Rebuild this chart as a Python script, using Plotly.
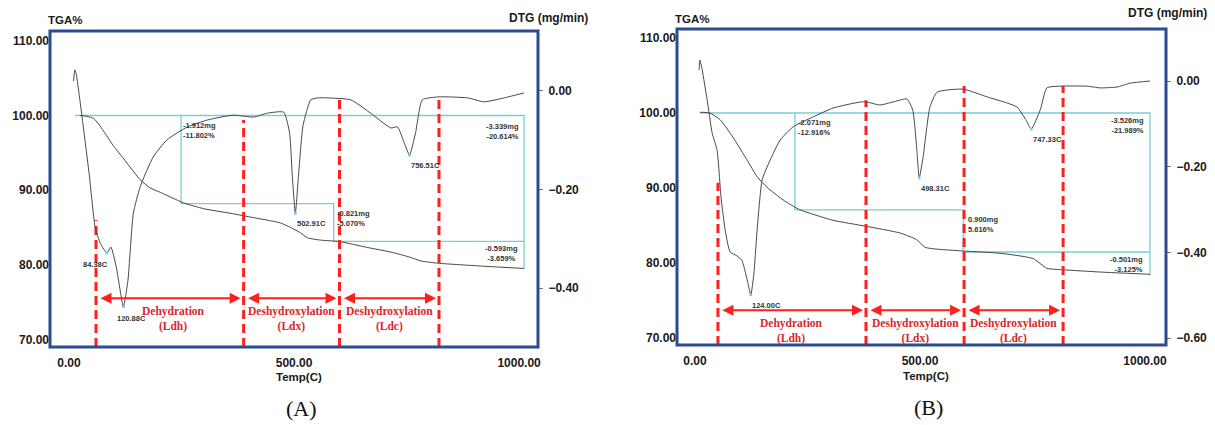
import plotly.graph_objects as go
import numpy as np

# ---------------- panel (A) ----------------
tga_T_A = [25, 40, 55, 69, 98, 124, 158, 180, 203, 254, 300, 358, 420, 470, 492, 514,
           530, 559, 601, 664, 715, 758, 782, 820, 922, 1011]
tga_A = [100.0, 99.9, 99.6, 98.6, 96.0, 94.0, 91.4, 90.3, 89.7, 88.3, 87.5, 86.9, 86.2,
         85.6, 85.0, 84.3, 83.6, 83.3, 83.1, 82.3, 81.7, 81.0, 80.5, 80.2, 79.8, 79.5]
dtg_T_A = [10, 13, 16, 30, 45, 58, 70, 84.38, 93, 105, 120.88, 131, 143, 158, 187, 218,
           263, 307, 365, 410, 441, 477, 490, 496, 502.91, 510, 520, 537, 552, 626, 670,
           715, 730, 745, 756.51, 770, 785, 820, 886, 922, 967, 1011]
dtg_A = [0.02, 0.043, 0.035, -0.06, -0.17, -0.276, -0.31, -0.329, -0.317, -0.357, -0.438,
         -0.384, -0.248, -0.195, -0.134, -0.099, -0.073, -0.059, -0.049, -0.053, -0.045,
         -0.043, -0.085, -0.17, -0.248, -0.17, -0.07, -0.018, -0.014, -0.018, -0.045,
         -0.075, -0.073, -0.106, -0.130, -0.085, -0.018, -0.012, -0.014, -0.022, -0.014,
         -0.004]
peaks_A = [84.38, 120.88, 502.91, 756.51]
step_T_A = [13, 249, 588, 1011]
step_A = [100.0, 88.198, 83.128, 79.469]
loss_A = ["-1.912mg<br>-11.802%", "-0.821mg<br>-5.070%", "-0.593mg<br>-3.659%",
          "-3.339mg<br>-20.614%"]
stage_T_A = [60, 388, 601, 822]

# ---------------- panel (B) ----------------
tga_T_B = [11, 33, 56, 84, 116, 138, 160, 196, 233, 307, 380, 456, 493, 511, 529, 596,
           678, 751, 782, 818, 900, 1011]
tga_B = [100.1, 100.0, 99.1, 96.8, 93.7, 91.5, 90.1, 88.4, 87.1, 85.7, 84.9, 84.0, 83.1,
         82.1, 81.9, 81.6, 81.3, 80.6, 79.3, 79.1, 78.8, 78.5]
dtg_T_B = [9, 11, 16, 27, 38, 49, 58, 67, 78, 93, 104, 116, 124.0, 131, 138, 149, 160,
           189, 218, 262, 307, 367, 382, 411, 440, 471, 484, 493, 498.31, 507, 522, 538,
           596, 649, 693, 716, 735, 747.33, 767, 782, 811, 871, 900, 938, 967, 1011]
dtg_B = [0.026, 0.049, 0.026, -0.044, -0.121, -0.161, -0.273, -0.348, -0.399, -0.408,
         -0.418, -0.464, -0.499, -0.448, -0.348, -0.231, -0.201, -0.138, -0.107, -0.084,
         -0.063, -0.049, -0.049, -0.056, -0.049, -0.042, -0.068, -0.161, -0.226, -0.177,
         -0.061, -0.026, -0.019, -0.037, -0.051, -0.061, -0.09, -0.112, -0.068, -0.016,
         -0.012, -0.012, -0.016, -0.014, -0.005, 0.0]
peaks_B = [124.00, 498.31, 747.33]
step_T_B = [11, 222, 596, 1011]
step_B = [100.0, 87.084, 81.468, 78.343]
loss_B = ["-2.071mg<br>-12.916%", "0.900mg<br>5.616%", "-0.501mg<br>-3.125%",
          "-3.526mg<br>-21.989%"]
stage_T_B = [51, 380, 598, 818]

stage_names = ["Dehydration<br>(Ldh)", "Deshydroxylation<br>(Ldx)", "Deshydroxylation<br>(Ldc)"]
tga_ticks = [70, 80, 90, 100, 110]
temp_ticks = [0, 500, 1000]

W, H = 1215, 425
GRAY = "#484848"
CYAN = "#79cdd8"
RED = "#ff1f1f"
FRAME = "#2d4b8e"
TICKFONT = dict(family="Liberation Sans", size=12, color="#1a1a1a", weight="bold")
SMALL = dict(family="Liberation Sans", size=7.5, color="#333333", weight="bold")


def px(x):
    return x / W


def py(y):
    return 1 - y / H


fig = go.Figure()

panels = [
    dict(T=tga_T_A, tga=tga_A, dT=dtg_T_A, dtg=dtg_A, peaks=peaks_A, sT=step_T_A, s=step_A,
         loss=loss_A, stages=stage_T_A, xa="x", ya="y", ya2="y2",
         xdom=[px(50), px(538)], ydom=[py(347), py(31)],
         xrange=[-42.2, 1042], yrange=[68.97, 111.33], y2range=[-0.5198, 0.1218],
         dtg_ticks=[0, -0.2, -0.4], dash_top=[86.0, 99.4, 102.1, 102.1], arrow_y=75.5,
         peak_pos=[("right", 3, -5), ("left", -8, -5), ("left", 0, -4), ("left", -1, -4)],
         loss_pos=[("left", 0, -3, "left"), ("left", 1, -3, "left"),
                   ("right", -4, -1, "center"), ("right", -3, -4, "right")],
         stage_shift=[4, 0, 0],
         label=("(A)", 301, 408), tga_lab=(65, 20), dtg_lab=(548, 18), temp_lab=(299, 377)),
    dict(T=tga_T_B, tga=tga_B, dT=dtg_T_B, dtg=dtg_B, peaks=peaks_B, sT=step_T_B, s=step_B,
         loss=loss_B, stages=stage_T_B, xa="x2", ya="y3", ya2="y4",
         xdom=[px(677), px(1166)], ydom=[py(345), py(29)],
         xrange=[-40, 1046.7], yrange=[69.07, 111.2], y2range=[-0.6161, 0.1214],
         dtg_ticks=[0, -0.2, -0.4, -0.6], dash_top=[90.7, 101.7, 103.6, 103.6], arrow_y=73.7,
         peak_pos=[("left", -1, -4), ("left", 0, -4), ("left", 0, -4)],
         loss_pos=[("left", 1, -3, "left"), ("left", 3, -3, "left"),
                   ("right", -5, -1, "right"), ("right", -4, -1, "right")],
         stage_shift=[0, 0, 0],
         label=("(B)", 928, 407), tga_lab=(692, 19), dtg_lab=(1167, 13), temp_lab=(926, 376)),
]

annotations = []
shapes = []

for i, p in enumerate(panels):
    xa, ya, ya2 = p["xa"], p["ya"], p["ya2"]

    # cyan step construction of the mass losses
    sT, s = p["sT"], p["s"]
    cx = [sT[0], sT[3], sT[3], None, sT[1], sT[1], sT[2], sT[2], sT[3]]
    cy = [s[0], s[0], s[3], None, s[0], s[1], s[1], s[2], s[2]]
    fig.add_trace(go.Scatter(x=cx, y=cy, xaxis=xa, yaxis=ya, mode="lines",
                             line=dict(color=CYAN, width=1.3), hoverinfo="skip"))

    # TGA and DTG curves
    fig.add_trace(go.Scatter(x=p["T"], y=p["tga"], xaxis=xa, yaxis=ya, mode="lines",
                             line=dict(color=GRAY, width=1, shape="spline", smoothing=0.5)))
    fig.add_trace(go.Scatter(x=p["dT"], y=p["dtg"], xaxis=xa, yaxis=ya2, mode="lines",
                             line=dict(color=GRAY, width=1, shape="spline", smoothing=0.5)))

    # peak dots
    peak_y = [p["dtg"][p["dT"].index(t)] for t in p["peaks"]]
    fig.add_trace(go.Scatter(x=p["peaks"], y=peak_y, xaxis=xa, yaxis=ya2, mode="markers",
                             marker=dict(color=CYAN, size=3)))
    for t, v, (anc, xs, ys) in zip(p["peaks"], peak_y, p["peak_pos"]):
        annotations.append(dict(x=t, y=v, xref=xa, yref=ya2, text="%.2fC" % t,
                                showarrow=False, xanchor=anc, yanchor="top",
                                xshift=xs, yshift=ys, font=SMALL))

    # mass loss labels
    corners = [(sT[1], s[0]), (sT[2], s[1]), (sT[3], s[2]), (sT[3], s[0])]
    for (cxp, cyp), txt, (anc, xs, ys, al) in zip(corners, p["loss"], p["loss_pos"]):
        annotations.append(dict(x=cxp, y=cyp, xref=xa, yref=ya, text=txt, showarrow=False,
                                xanchor=anc, yanchor="top", xshift=xs, yshift=ys, align=al,
                                font=SMALL))

    # red dashed stage boundaries
    for t, top in zip(p["stages"], p["dash_top"]):
        fig.add_trace(go.Scatter(x=[t, t], y=[p["yrange"][0], top], xaxis=xa, yaxis=ya,
                                 mode="lines", line=dict(color=RED, width=3, dash="9px,5px")))

    # double arrows and stage names
    st = p["stages"]
    for k in range(3):
        annotations.append(dict(x=st[k + 1], y=p["arrow_y"], ax=st[k], ay=p["arrow_y"],
                                xref=xa, yref=ya, axref=xa, ayref=ya, text="",
                                showarrow=True, arrowhead=2, arrowside="end+start",
                                arrowsize=1.1, arrowwidth=2, arrowcolor=RED,
                                standoff=3, startstandoff=3))
        annotations.append(dict(x=(st[k] + st[k + 1]) / 2, y=p["arrow_y"], xref=xa, yref=ya,
                                text=stage_names[k], showarrow=False, yanchor="top",
                                xanchor="center", yshift=-5, xshift=p["stage_shift"][k],
                                font=dict(family="Liberation Serif", size=11.5,
                                          color="#d9262c", weight="bold")))

    # blue frame
    shapes.append(dict(type="rect", xref=xa + " domain", yref=ya + " domain",
                       x0=0, x1=1, y0=0, y1=1, line=dict(color=FRAME, width=3)))

    # axis titles and panel label
    for txt, (lx, ly), fnt in [
        ("TGA%", p["tga_lab"], dict(TICKFONT, size=11.5)),
        ("DTG (mg/min)", p["dtg_lab"], TICKFONT),
        ("Temp(C)", p["temp_lab"], dict(TICKFONT, size=11.5)),
        (p["label"][0], p["label"][1:], dict(family="Liberation Serif", size=22,
                                             color="#111111")),
    ]:
        annotations.append(dict(x=px(lx), y=py(ly), xref="paper", yref="paper", text=txt,
                                showarrow=False, xanchor="center", yanchor="middle",
                                font=fnt))

    xkey = "xaxis" if xa == "x" else "xaxis" + xa[1:]
    ykey = "yaxis" if ya == "y" else "yaxis" + ya[1:]
    y2key = "yaxis" + ya2[1:]
    fig.update_layout(**{
        xkey: dict(domain=p["xdom"], range=p["xrange"], anchor=ya, tickvals=temp_ticks,
                   tickformat=".2f", showgrid=False, zeroline=False, showline=False,
                   ticks="outside", ticklen=5, tickcolor="rgba(0,0,0,0)",
                   tickfont=TICKFONT, automargin=False, fixedrange=True),
        ykey: dict(domain=p["ydom"], range=p["yrange"], anchor=xa, tickvals=tga_ticks,
                   tickformat=".2f", showgrid=False, zeroline=False, showline=False,
                   tickfont=TICKFONT, automargin=False),
        y2key: dict(range=p["y2range"], overlaying=ya, anchor=xa, side="right",
                    tickvals=p["dtg_ticks"], tickformat=".2f", showgrid=False,
                    zeroline=False, showline=False, ticks="outside", ticklen=4,
                    tickcolor="#777777", tickfont=TICKFONT, automargin=False,
                    ticklabelstandoff=3),
    })

fig.update_layout(
    width=W, height=H,
    margin=dict(l=0, r=0, t=0, b=0),
    paper_bgcolor="white", plot_bgcolor="white",
    showlegend=False,
    annotations=annotations,
    shapes=shapes,
)

# drop the browser's default body margin so the figure sits at the page origin
fig.write_html("out.html", config={"displayModeBar": False},
               post_script="document.body.style.margin='0';")
